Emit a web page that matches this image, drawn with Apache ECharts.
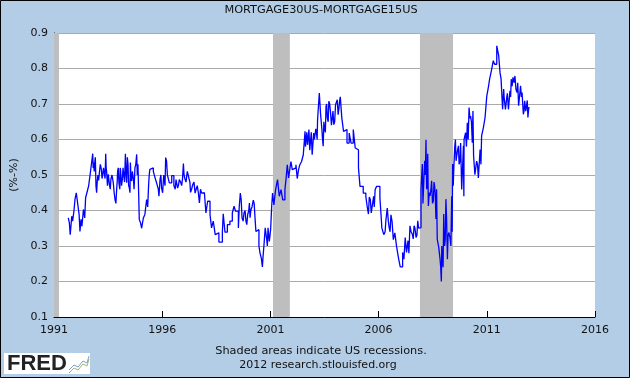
<!DOCTYPE html>
<html>
<head>
<meta charset="utf-8">
<style>
  html, body { margin: 0; padding: 0; background: #b3cde6; }
  #main { width: 630px; height: 378px; }
</style>
<script src="https://cdn.jsdelivr.net/npm/echarts@6/dist/echarts.min.js"></script>
</head>
<body>
<div id="main"></div>
<script>
var years = [
  1991.66,1991.71,1991.75,1991.82,1991.86,1991.92,1991.97,1992.03,1992.08,1992.16,1992.20,1992.25,1992.29,1992.36,1992.42,1992.46,1992.52,1992.60,1992.66,1992.72,1992.79,1992.83,1992.89,1992.94,
  1993.00,1993.06,1993.14,1993.19,1993.25,1993.33,1993.39,1993.43,1993.51,1993.56,1993.63,1993.74,1993.82,1993.90,1993.94,
  1994.00,1994.08,1994.16,1994.22,1994.30,1994.36,1994.42,1994.48,1994.53,1994.59,1994.67,1994.74,1994.82,1994.88,1994.94,
  1995.00,1995.05,1995.13,1995.20,1995.28,1995.37,1995.43,1995.51,1995.59,1995.67,1995.74,1995.82,1995.90,1995.97,
  1996.07,1996.16,1996.24,1996.33,1996.44,1996.54,1996.64,1996.71,1996.79,1996.90,1996.98,
  1997.05,1997.16,1997.25,1997.31,1997.41,1997.52,1997.62,1997.72,1997.82,1997.95,
  1998.02,1998.10,1998.21,1998.28,1998.36,1998.45,1998.52,1998.62,1998.70,1998.78,1998.82,1998.90,
  1999.01,1999.13,1999.24,1999.32,1999.39,1999.52,1999.61,1999.69,1999.78,1999.87,1999.95,
  2000.03,2000.10,2000.21,2000.29,2000.33,2000.41,2000.47,2000.52,2000.58,2000.63,2000.70,2000.76,2000.83,2000.89,2000.95,
  2001.01,2001.06,2001.10,2001.16,2001.24,2001.33,2001.41,2001.49,2001.57,2001.67,2001.72,2001.78,2001.84,2001.90,2001.95,
  2002.01,2002.10,2002.18,2002.24,2002.30,2002.36,2002.44,2002.52,2002.60,2002.64,2002.72,2002.78,2002.86,2002.93,
  2003.00,2003.07,2003.13,2003.18,2003.26,2003.32,2003.38,2003.44,2003.50,2003.57,2003.63,2003.70,2003.78,2003.86,2003.93,
  2004.01,2004.09,2004.17,2004.23,2004.30,2004.38,2004.46,2004.54,2004.64,2004.73,2004.83,2004.92,
  2005.01,2005.07,2005.14,2005.21,2005.29,2005.41,2005.47,2005.57,2005.66,2005.77,2005.84,2005.91,2005.98,
  2006.06,2006.15,2006.24,2006.34,2006.40,2006.49,2006.57,2006.68,2006.75,2006.83,2006.92,
  2007.00,2007.11,2007.17,2007.23,2007.29,2007.36,2007.45,2007.56,2007.64,2007.73,2007.81,2007.88,2007.96,
  2008.02,2008.07,2008.13,2008.19,2008.25,2008.30,2008.38,2008.45,2008.53,2008.59,2008.65,2008.71,2008.78,2008.84,2008.90,2008.95,
  2009.01,2009.05,2009.11,2009.18,2009.25,2009.30,2009.38,2009.42,2009.48,2009.55,2009.61,2009.69,2009.76,2009.84,2009.92,2009.95,
  2010.02,2010.10,2010.18,2010.25,2010.33,2010.39,2010.45,2010.53,2010.61,2010.69,2010.76,2010.84,2010.92,
  2011.00,2011.07,2011.13,2011.21,2011.30,2011.36,2011.46,2011.55,2011.61,2011.66,2011.73,2011.78,2011.86,2011.92,
  2012.00,2012.07,2012.13,2012.21,2012.30,2012.40,2012.47,2012.56,2012.63,2012.69,2012.75,2012.84,2012.90,2012.98
];
var spread = [
  .379,.365,.332,.384,.37,.398,.431,.45,.426,.389,.341,.375,.356,.403,.379,.436,.45,.469,.497,.526,.56,.535,.54,.469,
  .483,.485,.53,.516,.5,.525,.56,.511,.502,.473,.488,.478,.431,.464,.511,
  .478,.511,.488,.516,.56,.478,.53,.464,.535,.483,.488,.52,.558,.53,.375,
  .365,.35,.379,.389,.431,.469,.516,.52,.51,.492,.478,.46,.488,.464,
  .5,.549,.5,.478,.498,.47,.487,.463,.487,.47,.532,
  .489,.51,.487,.451,.473,.449,.47,.421,.449,.447,
  .393,.426,.388,.351,.37,.332,.337,.311,.311,.338,.391,.339,
  .36,.37,.393,.412,.398,.351,.449,.379,.393,.37,.388,
  .421,.402,.429,.379,.341,.346,.3,.28,.266,.241,.3,.351,.318,.351,.313,
  .346,.412,.449,.416,.459,.487,.44,.459,.43,.459,.487,.529,.492,.517,.538,
  .515,.52,.529,.49,.515,.529,.538,.557,.623,.59,.585,.628,.6,.557,
  .618,.604,.618,.656,.731,.67,.628,.581,.632,.693,.661,.708,.675,.661,.642,
  .698,.712,.689,.72,.661,.623,.628,.59,.618,.59,.628,.576,
  .571,.52,.468,.468,.449,.44,.412,.438,.393,.44,.459,.468,.468,
  .435,.351,.332,.374,.407,.351,.388,.318,.337,.299,.266,
  .241,.282,.263,.324,.282,.315,.357,.333,.357,.324,.371,.352,
  .46,.531,.423,.54,.599,.469,.413,.441,.484,.427,.469,.376,.319,.296,.263,.2,
  .263,.39,.3,.432,.263,.338,.324,.44,.531,.526,.6,.553,.582,.539,.459,.582,
  .6,.619,.647,.69,.666,.591,.553,.501,.539,.492,.572,.61,.633,
  .662,.723,.746,.77,.793,.822,.812,.864,.836,.789,.77,.685,.742,.685,
  .718,.685,.737,.77,.775,.779,.732,.695,.751,.732,.671,.709,.685,.662
];
// extra weeks read from the noisy stretches
var detailYears = [
  1992.81,1992.86,1992.91,1992.97,1993.03,1993.10,1993.17,1993.22,1993.29,1993.36,1993.41,1993.47,1993.53,1993.60,1993.68,1993.78,1993.86,1993.92,1993.97,
  1994.04,1994.06,1994.12,1994.19,1994.26,1994.33,1994.39,1994.45,1994.51,1994.56,1994.62,1994.70,1994.78,1994.85,
  1995.33,1995.40,1995.85,1995.94,1996.02,1996.13,1996.20,
  1996.60,1996.68,1996.75,1996.85,1996.94,1997.01,1997.10,1997.20,1997.28,1997.36,1997.47,1997.57,1997.67,1997.77,1997.88,
  1999.56,1999.65,1999.74,1999.83,1999.91,2000.00,2000.06,2000.15,2000.25,2000.66,2000.73,2000.80,2000.86,2000.92,2000.98,
  2002.62,2002.68,2002.75,2002.82,2002.89,2002.96,2003.03,2003.10,2003.16,2003.41,2003.47,2003.54,2003.60,2003.67,2003.74,2003.82,2003.89,2003.97,2004.05,2004.13,2004.20,
  2005.53,2005.62,2005.70,2005.80,2006.10,2006.20,2006.30,2006.45,2006.53,2006.62,
  2007.40,2007.50,2007.60,2007.68,2007.77,2007.85,
  2008.05,2008.10,2008.16,2008.22,2008.27,2008.34,2008.42,2008.49,2008.56,2008.62,2008.68,2008.87,2008.92,2008.98,
  2009.03,2009.08,2009.14,2009.21,2009.27,2009.34,2009.40,2009.45,2009.52,2009.58,2009.65,2009.72,2009.79,2009.88,2009.94,
  2010.06,2010.14,2010.22,2010.29,2010.36,2010.48,2010.57,2010.65,2010.73,
  2011.80,2011.89,2011.95,2012.04,2012.10,2012.17,2012.26,2012.35,2012.43,2012.52,2012.60,2012.66,2012.72,2012.80,2012.87,2012.94
];
var detailSpread = [
  .52,.51,.55,.45,.5,.49,.535,.49,.52,.49,.52,.47,.5,.46,.5,.45,.42,.48,.52,
  .46,.52,.47,.52,.48,.5,.55,.47,.45,.49,.51,.46,.53,.5,
  .41,.5,.44,.5,.45,.47,.54,
  .46,.49,.47,.48,.49,.5,.48,.5,.48,.46,.48,.46,.45,.46,.45,
  .41,.43,.37,.4,.36,.4,.38,.41,.42,.27,.3,.35,.3,.35,.31,
  .58,.62,.58,.57,.62,.56,.6,.63,.6,.6,.65,.62,.7,.65,.7,.64,.68,.65,.7,.67,.71,
  .39,.43,.41,.41,.4,.35,.34,.37,.34,.37,
  .28,.34,.32,.35,.33,.35,
  .42,.5,.5,.46,.56,.45,.46,.42,.48,.44,.46,.24,.3,.24,
  .32,.32,.38,.33,.33,.3,.34,.47,.58,.54,.57,.53,.59,.52,.44,
  .58,.6,.66,.65,.68,.5,.53,.49,.53,
  .72,.7,.73,.69,.72,.75,.76,.74,.76,.7,.72,.7,.68,.68,.71,.69
];
var recessions = [[1991, 1991.23], [2001.12, 2001.9], [2007.91, 2009.44]];
var logoLine = [[0, 16], [5, 11], [9, 13], [14, 7], [18, 9], [20, 2]];

var points = years.map(function (y, i) { return [y, spread[i]]; })
  .concat(detailYears.map(function (y, i) { return [y, detailSpread[i]]; }))
  .sort(function (a, b) { return a[0] - b[0]; });

var chart = echarts.init(document.getElementById('main'));
var font = '"DejaVu Sans", sans-serif';

chart.setOption({
  animation: false,
  backgroundColor: '#b3cde6',
  title: {
    text: 'MORTGAGE30US-MORTGAGE15US',
    left: 316, top: 0, textAlign: 'center',
    textStyle: { fontFamily: font, fontSize: 11.3, fontWeight: 'normal', color: '#111' }
  },
  grid: { left: 54, right: 35, top: 33, bottom: 61, backgroundColor: '#fff', show: true, borderWidth: 0 },
  xAxis: {
    type: 'value', min: 1991, max: 2016, interval: 5,
    splitLine: { show: false },
    axisLine: { lineStyle: { color: '#000', width: 1 } },
    axisTick: { inside: true, length: 6, lineStyle: { color: '#000' } },
    axisLabel: {
      margin: 8, fontFamily: font, fontSize: 11, color: '#111',
      formatter: function (v) { return String(v); }
    }
  },
  yAxis: {
    type: 'value', min: 0.1, max: 0.9, interval: 0.1,
    name: '(%-%)', nameLocation: 'middle', nameGap: 29,
    nameTextStyle: { fontFamily: font, fontSize: 11, color: '#111' },
    splitLine: { lineStyle: { color: '#aaaaaa', width: 1 } },
    axisLine: { show: true, lineStyle: { color: '#000', width: 1 } },
    axisTick: { show: true, inside: true, length: 5, lineStyle: { color: '#000' } },
    axisLabel: {
      margin: 6, fontFamily: font, fontSize: 11, color: '#111',
      formatter: function (v) { return v.toFixed(1); }
    }
  },
  series: [{
    type: 'line',
    data: points,
    showSymbol: false,
    step: 'end',
    lineStyle: { color: '#0000ff', width: 1.3 },
    markArea: {
      silent: true,
      itemStyle: { color: '#bebebe' },
      data: recessions.map(function (r) { return [{ xAxis: r[0] }, { xAxis: r[1] }]; })
    }
  }],
  graphic: [
    { type: 'rect', silent: true, z: 100, shape: { x: 0.5, y: 0.5, width: 629, height: 377 }, style: { fill: 'none', stroke: '#000', lineWidth: 1 } },
    { type: 'text', x: 321, y: 351, style: { text: 'Shaded areas indicate US recessions.', fontFamily: font, fontSize: 11.3, fill: '#111', textAlign: 'center', textVerticalAlign: 'middle' } },
    { type: 'text', x: 318, y: 365, style: { text: '2012 research.stlouisfed.org', fontFamily: font, fontSize: 11, fill: '#111', textAlign: 'center', textVerticalAlign: 'middle' } },
    { type: 'rect', shape: { x: 4, y: 353, width: 86, height: 21 }, style: { fill: '#fff' } },
    { type: 'text', x: 7, y: 364, style: { text: 'FRED', fontFamily: '"Liberation Sans", sans-serif', fontWeight: 'bold', fontSize: 22, fill: '#222', textVerticalAlign: 'middle' } },
    { type: 'polyline', x: 69, y: 354, shape: { points: logoLine }, style: { fill: 'none', stroke: '#7f9fbf', lineWidth: 1 } },
    { type: 'polyline', x: 69, y: 357, shape: { points: logoLine }, style: { fill: 'none', stroke: '#9fb56f', lineWidth: 1 } }
  ]
});
</script>
</body>
</html>
